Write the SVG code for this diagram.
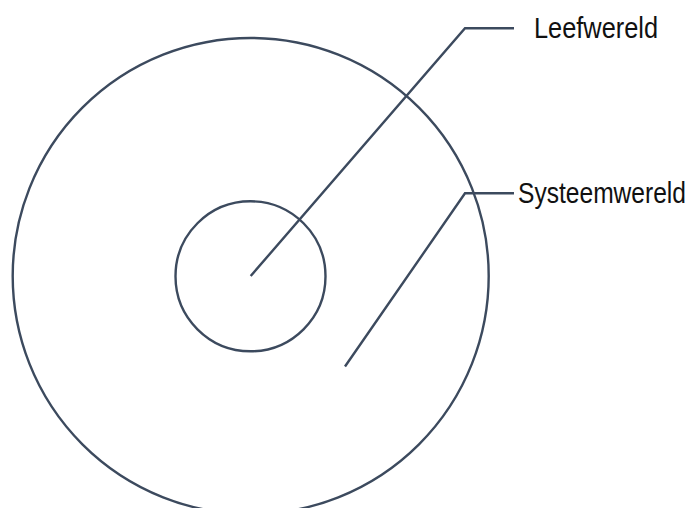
<svg xmlns="http://www.w3.org/2000/svg" width="694" height="508" viewBox="0 0 694 508">
<style>
.s{fill:none;stroke:#3c4a5e;stroke-width:2.4}
.t{font-family:"Liberation Sans",Arial,sans-serif;font-size:29px;fill:#111}
</style>
<rect width="694" height="508" fill="#fff"/>
<g id="systeemwereld-circle"><circle class="s" cx="250.7" cy="276" r="238"/></g>
<g id="leefwereld-circle"><circle class="s" cx="250.5" cy="276.3" r="75"/></g>
<g id="connectors">
<polyline class="s" points="250.7,276 465,28.3 514,28.3"/>
<polyline class="s" points="345,366.5 465,193.3 514,193.3"/>
</g>
<g id="label-leefwereld"><text class="t" x="534" y="37.7" textLength="124" lengthAdjust="spacingAndGlyphs">Leefwereld</text></g>
<g id="label-systeemwereld"><text class="t" x="518" y="202.7" textLength="168" lengthAdjust="spacingAndGlyphs">Systeemwereld</text></g>
</svg>
